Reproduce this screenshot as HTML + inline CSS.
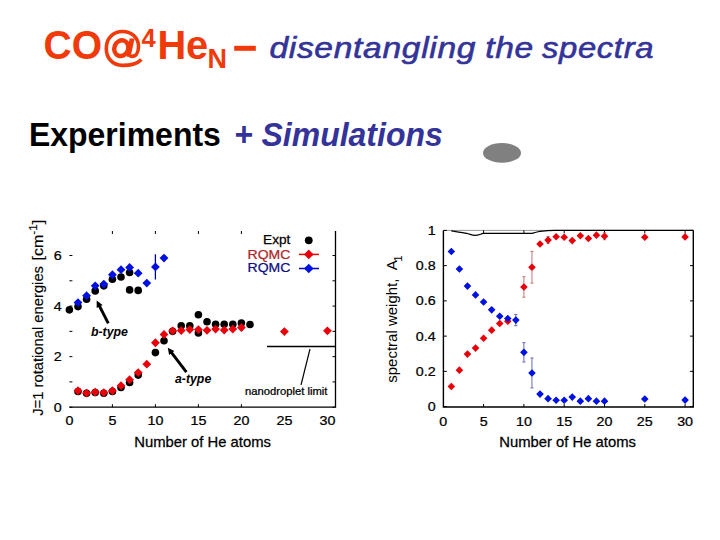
<!DOCTYPE html>
<html><head><meta charset="utf-8">
<style>
html,body{margin:0;padding:0;background:#fff;}
body{width:720px;height:540px;position:relative;overflow:hidden;}
svg{position:absolute;left:0;top:0;}
</style></head><body>
<svg width="720" height="540" viewBox="0 0 720 540" font-family='"Liberation Sans", sans-serif'>
<rect width="720" height="540" fill="#fff"/>
<text transform="translate(43.6 58.7) scale(1 1.04)" font-size="39" font-weight="bold" fill="#f03a0a">CO</text>
<g fill="none" stroke="#f03a0a">
<path d="M141.4 59.4C137 64 131 65.4 122.5 65.4C112 65.4 106.3 57.5 106.3 48.4C106.3 38 113.5 31.5 122.5 31.5C132 31.5 138.5 38 138.5 46.5C138.5 53 135.5 56.4 132 56.4C130 56.4 128.9 55 129.3 53" stroke-width="3.6"/>
<path d="M129.6 38.4L134.6 38.4L130.6 56.8L126.6 56.8Z" fill="#f03a0a" stroke="none"/>
<ellipse cx="121.3" cy="48.2" rx="6.9" ry="8" stroke-width="4.4" transform="rotate(22 121.3 48.2)"/>
</g>
<text x="141.5" y="46.6" font-family='"Liberation Sans", sans-serif' font-size="25.5" font-weight="bold" fill="#f03a0a">4</text>
<text transform="translate(157.4 58.7) scale(1.02 1.04)" font-size="39" font-weight="bold" fill="#f03a0a">He</text>
<text x="207.6" y="68" font-family='"Liberation Sans", sans-serif' font-size="27" font-weight="bold" fill="#f03a0a">N</text>
<rect x="234.2" y="45.8" width="21.6" height="5" fill="#f03a0a"/>
<g font-size="30" font-style="italic" letter-spacing="0.6" fill="#333399" stroke="#333399" stroke-width="0.6">
<text transform="translate(269.4 58.4) scale(1.12 1)">disentangling</text>
<text transform="translate(485.2 58.4) scale(1.12 1)">the</text>
<text transform="translate(541.9 58.4) scale(1.095 1)">spectra</text>
</g>
<text transform="translate(28.9 145.8) scale(1 1.035)" font-size="32" font-weight="bold" fill="#000">Experiments</text>
<text transform="translate(233.9 145.6) scale(1 1.02)" font-size="32" font-weight="bold" font-style="italic" fill="#333399">+ Simulations</text>
<ellipse cx="502" cy="152.9" rx="19" ry="9.8" fill="#808080"/>
<g stroke="#000" stroke-width="1.3" fill="none">
<path d="M69.4 407.2H335.5V231"/>
</g>
<g stroke="#000" stroke-width="1" fill="none">
<path d="M112.4 407.2v-3M112.4 231v3M155.4 407.2v-3M155.4 231v3M198.4 407.2v-3M198.4 231v3M241.4 407.2v-3M241.4 231v3M69.4 407.2h3M335.5 407.2h-3M69.4 381.92h3M335.5 381.92h-3M69.4 356.64h3M335.5 356.64h-3M69.4 331.36h3M335.5 331.36h-3M69.4 306.08h3M335.5 306.08h-3M69.4 280.8h3M335.5 280.8h-3M69.4 255.52h3M335.5 255.52h-3"/>
</g>
<text transform="translate(69.4 425.2) scale(1.1 1)" font-size="13" text-anchor="middle" fill="#000" stroke="#000" stroke-width="0.25">0</text>
<text transform="translate(112.4 425.2) scale(1.1 1)" font-size="13" text-anchor="middle" fill="#000" stroke="#000" stroke-width="0.25">5</text>
<text transform="translate(155.4 425.2) scale(1.1 1)" font-size="13" text-anchor="middle" fill="#000" stroke="#000" stroke-width="0.25">10</text>
<text transform="translate(198.4 425.2) scale(1.1 1)" font-size="13" text-anchor="middle" fill="#000" stroke="#000" stroke-width="0.25">15</text>
<text transform="translate(241.4 425.2) scale(1.1 1)" font-size="13" text-anchor="middle" fill="#000" stroke="#000" stroke-width="0.25">20</text>
<text transform="translate(284.4 425.2) scale(1.1 1)" font-size="13" text-anchor="middle" fill="#000" stroke="#000" stroke-width="0.25">25</text>
<text transform="translate(327.4 425.2) scale(1.1 1)" font-size="13" text-anchor="middle" fill="#000" stroke="#000" stroke-width="0.25">30</text>
<text transform="translate(61.6 411.7) scale(1.1 1)" font-size="13" text-anchor="end" fill="#000" stroke="#000" stroke-width="0.25">0</text>
<text transform="translate(61.6 361.14) scale(1.1 1)" font-size="13" text-anchor="end" fill="#000" stroke="#000" stroke-width="0.25">2</text>
<text transform="translate(61.6 310.58) scale(1.1 1)" font-size="13" text-anchor="end" fill="#000" stroke="#000" stroke-width="0.25">4</text>
<text transform="translate(61.6 260.02) scale(1.1 1)" font-size="13" text-anchor="end" fill="#000" stroke="#000" stroke-width="0.25">6</text>
<text transform="translate(134.2 447.2) scale(1.06 1)" font-size="14" fill="#000" stroke="#000" stroke-width="0.25">Number of He atoms</text>
<text transform="translate(42.9 415.8) rotate(-90) scale(0.985 1)" font-size="15" fill="#000" stroke="#000" stroke-width="0.15">J=1 rotational energies</text>
<text transform="translate(42.9 260.5) rotate(-90) scale(1.07 1)" font-size="15" fill="#000" stroke="#000" stroke-width="0.15">[cm<tspan dy="-6" font-size="11">-1</tspan><tspan dy="6">]</tspan></text>
<path d="M267 346.5H335.5" stroke="#000" stroke-width="1.3"/>
<path d="M301 385L310 349" stroke="#000" stroke-width="1.2"/>
<text transform="translate(245 394.7) scale(1.125 1)" font-size="10" fill="#000" stroke="#000" stroke-width="0.25">nanodroplet limit</text>
<circle cx="69.4" cy="309.87" r="3.8" fill="#000"/>
<circle cx="78" cy="306.59" r="3.8" fill="#000"/>
<circle cx="86.6" cy="299.25" r="3.8" fill="#000"/>
<circle cx="95.2" cy="290.91" r="3.8" fill="#000"/>
<circle cx="103.8" cy="285.86" r="3.8" fill="#000"/>
<circle cx="112.4" cy="279.28" r="3.8" fill="#000"/>
<circle cx="121" cy="277.01" r="3.8" fill="#000"/>
<circle cx="129.6" cy="272.46" r="3.8" fill="#000"/>
<circle cx="129.6" cy="289.9" r="3.8" fill="#000"/>
<circle cx="138.2" cy="290.41" r="3.8" fill="#000"/>
<circle cx="78" cy="391.53" r="3.8" fill="#000"/>
<circle cx="86.6" cy="393.3" r="3.8" fill="#000"/>
<circle cx="95.2" cy="392.54" r="3.8" fill="#000"/>
<circle cx="103.8" cy="393.3" r="3.8" fill="#000"/>
<circle cx="112.4" cy="391.53" r="3.8" fill="#000"/>
<circle cx="121" cy="387.48" r="3.8" fill="#000"/>
<circle cx="129.6" cy="382.43" r="3.8" fill="#000"/>
<circle cx="138.2" cy="375.09" r="3.8" fill="#000"/>
<circle cx="155.4" cy="352.6" r="3.8" fill="#000"/>
<circle cx="164" cy="340.71" r="3.8" fill="#000"/>
<circle cx="172.6" cy="331.36" r="3.8" fill="#000"/>
<circle cx="181.2" cy="325.8" r="3.8" fill="#000"/>
<circle cx="189.8" cy="325.8" r="3.8" fill="#000"/>
<circle cx="198.4" cy="314.68" r="3.8" fill="#000"/>
<circle cx="198.4" cy="332.88" r="3.8" fill="#000"/>
<circle cx="207" cy="321.75" r="3.8" fill="#000"/>
<circle cx="215.6" cy="324.28" r="3.8" fill="#000"/>
<circle cx="224.2" cy="324.28" r="3.8" fill="#000"/>
<circle cx="232.8" cy="324.28" r="3.8" fill="#000"/>
<circle cx="241.4" cy="323.02" r="3.8" fill="#000"/>
<circle cx="250" cy="324.53" r="3.8" fill="#000"/>
<path d="M78 386.37L82.4 390.77L78 395.17L73.6 390.77Z" fill="#e8000a"/>
<path d="M86.6 388.64L91 393.04L86.6 397.44L82.2 393.04Z" fill="#e8000a"/>
<path d="M95.2 387.63L99.6 392.03L95.2 396.43L90.8 392.03Z" fill="#e8000a"/>
<path d="M103.8 388.14L108.2 392.54L103.8 396.94L99.4 392.54Z" fill="#e8000a"/>
<path d="M112.4 386.37L116.8 390.77L112.4 395.17L108 390.77Z" fill="#e8000a"/>
<path d="M121 381.31L125.4 385.71L121 390.11L116.6 385.71Z" fill="#e8000a"/>
<path d="M129.6 375.24L134 379.64L129.6 384.04L125.2 379.64Z" fill="#e8000a"/>
<path d="M138.2 368.17L142.6 372.57L138.2 376.97L133.8 372.57Z" fill="#e8000a"/>
<path d="M146.8 359.82L151.2 364.22L146.8 368.62L142.4 364.22Z" fill="#e8000a"/>
<path d="M155.4 338.34L159.8 342.74L155.4 347.14L151 342.74Z" fill="#e8000a"/>
<path d="M164 329.99L168.4 334.39L164 338.79L159.6 334.39Z" fill="#e8000a"/>
<path d="M172.6 326.45L177 330.85L172.6 335.25L168.2 330.85Z" fill="#e8000a"/>
<path d="M181.2 326.2L185.6 330.6L181.2 335L176.8 330.6Z" fill="#e8000a"/>
<path d="M189.8 325.19L194.2 329.59L189.8 333.99L185.4 329.59Z" fill="#e8000a"/>
<path d="M198.4 325.19L202.8 329.59L198.4 333.99L194 329.59Z" fill="#e8000a"/>
<path d="M207 325.95L211.4 330.35L207 334.75L202.6 330.35Z" fill="#e8000a"/>
<path d="M215.6 324.68L220 329.08L215.6 333.48L211.2 329.08Z" fill="#e8000a"/>
<path d="M224.2 325.7L228.6 330.1L224.2 334.5L219.8 330.1Z" fill="#e8000a"/>
<path d="M232.8 324.68L237.2 329.08L232.8 333.48L228.4 329.08Z" fill="#e8000a"/>
<path d="M241.4 325.04V330.1M239.9 325.04H242.9M239.9 330.1H242.9" stroke="#e00" stroke-width="1" fill="none"/>
<path d="M241.4 323.17L245.8 327.57L241.4 331.97L237 327.57Z" fill="#e8000a"/>
<path d="M284.4 327.21L288.8 331.61L284.4 336.01L280 331.61Z" fill="#e8000a"/>
<path d="M327.4 326.45L331.8 330.85L327.4 335.25L323 330.85Z" fill="#e8000a"/>
<path d="M78 298.14L82.4 302.54L78 306.94L73.6 302.54Z" fill="#0010e0"/>
<path d="M86.6 291.32L91 295.72L86.6 300.12L82.2 295.72Z" fill="#0010e0"/>
<path d="M95.2 281.46L99.6 285.86L95.2 290.26L90.8 285.86Z" fill="#0010e0"/>
<path d="M103.8 279.69L108.2 284.09L103.8 288.49L99.4 284.09Z" fill="#0010e0"/>
<path d="M112.4 270.33L116.8 274.73L112.4 279.13L108 274.73Z" fill="#0010e0"/>
<path d="M121 265.28L125.4 269.68L121 274.08L116.6 269.68Z" fill="#0010e0"/>
<path d="M129.6 263L134 267.4L129.6 271.8L125.2 267.4Z" fill="#0010e0"/>
<path d="M138.2 270.18V276.25M138.2 270.18H138.2M138.2 276.25H138.2" stroke="#000090" stroke-width="1.3" fill="none"/>
<path d="M138.2 268.82L142.6 273.22L138.2 277.62L133.8 273.22Z" fill="#0010e0"/>
<path d="M146.8 278.68L151.2 283.08L146.8 287.48L142.4 283.08Z" fill="#0010e0"/>
<path d="M155.4 254.26V279.54M155.4 254.26H155.4M155.4 279.54H155.4" stroke="#000090" stroke-width="1.3" fill="none"/>
<path d="M155.4 262.5L159.8 266.9L155.4 271.3L151 266.9Z" fill="#0010e0"/>
<path d="M164 253.65L168.4 258.05L164 262.45L159.6 258.05Z" fill="#0010e0"/>
<text transform="translate(290.3 244.4) scale(1.09 1)" font-size="12.5" text-anchor="end" fill="#000" stroke="#000" stroke-width="0.25">Expt</text>
<text transform="translate(290.3 258.8) scale(1.12 1)" font-size="12.5" text-anchor="end" fill="#b02828" stroke="#b02828" stroke-width="0.25">RQMC</text>
<text transform="translate(290.3 272.2) scale(1.12 1)" font-size="12.5" text-anchor="end" fill="#101080" stroke="#101080" stroke-width="0.25">RQMC</text>
<circle cx="308.75" cy="240.3" r="3.9" fill="#000"/>
<path d="M299 254.4H319" stroke="#e00" stroke-width="1.5"/>
<path d="M308.75 249.6L313.55 254.4L308.75 259.2L303.95 254.4Z" fill="#e8000a"/>
<path d="M299 268.5H319" stroke="#0000c8" stroke-width="1.5"/>
<path d="M308.75 263.7L313.55 268.5L308.75 273.3L303.95 268.5Z" fill="#0010e0"/>
<path d="M108.3 323.3L99.2 305.5" stroke="#000" stroke-width="2.9"/><path d="M96.7 300.6L102.6 304.89L96.72 307.89Z" fill="#000"/>
<path d="M186.4 372.2L171.13 352.17" stroke="#000" stroke-width="2.9"/><path d="M167.8 347.8L174.36 350.97L169.12 354.97Z" fill="#000"/>
<text transform="translate(91 335.5)" font-size="12.3" fill="#000" font-weight="bold" font-style="italic">b-type</text>
<text transform="translate(175 383.3)" font-size="12.3" fill="#000" font-weight="bold" font-style="italic">a-type</text>
<path d="M443.4 230.4V407H693.3V230.4" stroke="#000" stroke-width="1.4" fill="none"/>
<path d="M443.4 230.4H693.3" stroke="#999" stroke-width="1" fill="none"/>
<path d="M483.6 407v-3M483.6 230.4v3M523.9 407v-3M523.9 230.4v3M564.2 407v-3M564.2 230.4v3M604.5 407v-3M604.5 230.4v3M644.8 407v-3M644.8 230.4v3M685.1 407v-3M685.1 230.4v3M443.3 406.6h3.5M693.5 406.6h-3.5M443.3 371.36h3.5M693.5 371.36h-3.5M443.3 336.12h3.5M693.5 336.12h-3.5M443.3 300.88h3.5M693.5 300.88h-3.5M443.3 265.64h3.5M693.5 265.64h-3.5M443.3 230.4h3.5M693.5 230.4h-3.5" stroke="#000" stroke-width="1" fill="none"/>
<text transform="translate(443.3 425.5) scale(1.1 1)" font-size="13" text-anchor="middle" fill="#000" stroke="#000" stroke-width="0.25">0</text>
<text transform="translate(483.6 425.5) scale(1.1 1)" font-size="13" text-anchor="middle" fill="#000" stroke="#000" stroke-width="0.25">5</text>
<text transform="translate(523.9 425.5) scale(1.1 1)" font-size="13" text-anchor="middle" fill="#000" stroke="#000" stroke-width="0.25">10</text>
<text transform="translate(564.2 425.5) scale(1.1 1)" font-size="13" text-anchor="middle" fill="#000" stroke="#000" stroke-width="0.25">15</text>
<text transform="translate(604.5 425.5) scale(1.1 1)" font-size="13" text-anchor="middle" fill="#000" stroke="#000" stroke-width="0.25">20</text>
<text transform="translate(644.8 425.5) scale(1.1 1)" font-size="13" text-anchor="middle" fill="#000" stroke="#000" stroke-width="0.25">25</text>
<text transform="translate(685.1 425.5) scale(1.1 1)" font-size="13" text-anchor="middle" fill="#000" stroke="#000" stroke-width="0.25">30</text>
<text transform="translate(435.6 411.1) scale(1.1 1)" font-size="13" text-anchor="end" fill="#000" stroke="#000" stroke-width="0.25">0</text>
<text transform="translate(435.6 375.86) scale(1.1 1)" font-size="13" text-anchor="end" fill="#000" stroke="#000" stroke-width="0.25">0.2</text>
<text transform="translate(435.6 340.62) scale(1.1 1)" font-size="13" text-anchor="end" fill="#000" stroke="#000" stroke-width="0.25">0.4</text>
<text transform="translate(435.6 305.38) scale(1.1 1)" font-size="13" text-anchor="end" fill="#000" stroke="#000" stroke-width="0.25">0.6</text>
<text transform="translate(435.6 270.14) scale(1.1 1)" font-size="13" text-anchor="end" fill="#000" stroke="#000" stroke-width="0.25">0.8</text>
<text transform="translate(435.6 234.9) scale(1.1 1)" font-size="13" text-anchor="end" fill="#000" stroke="#000" stroke-width="0.25">1</text>
<text transform="translate(499.2 447.2) scale(1.06 1)" font-size="14" fill="#000" stroke="#000" stroke-width="0.25">Number of He atoms</text>
<text transform="translate(397 382.8) rotate(-90)" font-size="15" fill="#000">spectral weight,</text>
<text transform="translate(396.9 270.2) rotate(-90)" font-size="15" fill="#000">A</text>
<text transform="translate(401.7 261.7) rotate(-90)" font-size="11.5" fill="#000">1</text>
<path d="M451.25 230.8C456 231.5 462 232.6 466.7 233.4C470 234.1 472 235.4 475 235.4C478 235.4 480 234.3 483.3 233.4L531.7 233.4C534 233.1 537 231.6 540 231.3C545 230.8 550 230.5 555 230.4L693.3 230.4" stroke="#000" stroke-width="1.2" fill="none"/>
<path d="M451.36 382.71L455.16 386.51L451.36 390.31L447.56 386.51Z" fill="#e8000a"/>
<path d="M459.42 366.33L463.22 370.13L459.42 373.93L455.62 370.13Z" fill="#e8000a"/>
<path d="M467.48 350.29L471.28 354.09L467.48 357.89L463.68 354.09Z" fill="#e8000a"/>
<path d="M475.54 344.3L479.34 348.1L475.54 351.9L471.74 348.1Z" fill="#e8000a"/>
<path d="M483.6 334.43L487.4 338.23L483.6 342.03L479.8 338.23Z" fill="#e8000a"/>
<path d="M491.66 326.33L495.46 330.13L491.66 333.93L487.86 330.13Z" fill="#e8000a"/>
<path d="M499.72 319.63L503.52 323.43L499.72 327.23L495.92 323.43Z" fill="#e8000a"/>
<path d="M507.78 317.52L511.58 321.32L507.78 325.12L503.98 321.32Z" fill="#e8000a"/>
<path d="M523.9 276.74V297.18M522.3 276.74H525.5M522.3 297.18H525.5" stroke="#b86a6a" stroke-width="0.9" fill="none"/>
<path d="M523.9 283.16L527.7 286.96L523.9 290.76L520.1 286.96Z" fill="#e8000a"/>
<path d="M531.96 251.37V283.08M530.36 251.37H533.56M530.36 283.08H533.56" stroke="#b86a6a" stroke-width="0.9" fill="none"/>
<path d="M531.96 263.43L535.76 267.23L531.96 271.03L528.16 267.23Z" fill="#e8000a"/>
<path d="M540.02 240.17L543.82 243.97L540.02 247.77L536.22 243.97Z" fill="#e8000a"/>
<path d="M548.08 236.57V243.62M546.48 236.57H549.68M546.48 243.62H549.68" stroke="#b86a6a" stroke-width="0.9" fill="none"/>
<path d="M548.08 236.29L551.88 240.09L548.08 243.89L544.28 240.09Z" fill="#e8000a"/>
<path d="M556.14 232.94L559.94 236.74L556.14 240.54L552.34 236.74Z" fill="#e8000a"/>
<path d="M564.2 233.47L568 237.27L564.2 241.07L560.4 237.27Z" fill="#e8000a"/>
<path d="M572.26 236.82L576.06 240.62L572.26 244.42L568.46 240.62Z" fill="#e8000a"/>
<path d="M580.32 231.89L584.12 235.69L580.32 239.49L576.52 235.69Z" fill="#e8000a"/>
<path d="M588.38 234.71L592.18 238.51L588.38 242.31L584.58 238.51Z" fill="#e8000a"/>
<path d="M596.44 231.36L600.24 235.16L596.44 238.96L592.64 235.16Z" fill="#e8000a"/>
<path d="M604.5 232.69V239.74M602.9 232.69H606.1M602.9 239.74H606.1" stroke="#b86a6a" stroke-width="0.9" fill="none"/>
<path d="M604.5 232.41L608.3 236.21L604.5 240.01L600.7 236.21Z" fill="#e8000a"/>
<path d="M644.8 233.47L648.6 237.27L644.8 241.07L641 237.27Z" fill="#e8000a"/>
<path d="M685.1 233.12L688.9 236.92L685.1 240.72L681.3 236.92Z" fill="#e8000a"/>
<path d="M451.36 247.74L455.16 251.54L451.36 255.34L447.56 251.54Z" fill="#0010e0"/>
<path d="M459.42 265.19L463.22 268.99L459.42 272.79L455.62 268.99Z" fill="#0010e0"/>
<path d="M467.48 282.28L471.28 286.08L467.48 289.88L463.68 286.08Z" fill="#0010e0"/>
<path d="M475.54 291.09L479.34 294.89L475.54 298.69L471.74 294.89Z" fill="#0010e0"/>
<path d="M483.6 298.14L487.4 301.94L483.6 305.74L479.8 301.94Z" fill="#0010e0"/>
<path d="M491.66 306.07L495.46 309.87L491.66 313.67L487.86 309.87Z" fill="#0010e0"/>
<path d="M499.72 312.41L503.52 316.21L499.72 320.01L495.92 316.21Z" fill="#0010e0"/>
<path d="M507.78 314.7L511.58 318.5L507.78 322.3L503.98 318.5Z" fill="#0010e0"/>
<path d="M515.84 314.45V325.72M514.24 314.45H517.44M514.24 325.72H517.44" stroke="#5a5aa8" stroke-width="0.9" fill="none"/>
<path d="M515.84 316.29L519.64 320.09L515.84 323.89L512.04 320.09Z" fill="#0010e0"/>
<path d="M523.9 342.64V362.02M522.3 342.64H525.5M522.3 362.02H525.5" stroke="#5a5aa8" stroke-width="0.9" fill="none"/>
<path d="M523.9 348.53L527.7 352.33L523.9 356.13L520.1 352.33Z" fill="#0010e0"/>
<path d="M531.96 357.97V387.92M530.36 357.97H533.56M530.36 387.92H533.56" stroke="#5a5aa8" stroke-width="0.9" fill="none"/>
<path d="M531.96 369.15L535.76 372.95L531.96 376.75L528.16 372.95Z" fill="#0010e0"/>
<path d="M540.02 390.29L543.82 394.09L540.02 397.89L536.22 394.09Z" fill="#0010e0"/>
<path d="M548.08 394.87L551.88 398.67L548.08 402.47L544.28 398.67Z" fill="#0010e0"/>
<path d="M556.14 396.46L559.94 400.26L556.14 404.06L552.34 400.26Z" fill="#0010e0"/>
<path d="M564.2 396.46L568 400.26L564.2 404.06L560.4 400.26Z" fill="#0010e0"/>
<path d="M572.26 393.29L576.06 397.09L572.26 400.89L568.46 397.09Z" fill="#0010e0"/>
<path d="M580.32 397.34L584.12 401.14L580.32 404.94L576.52 401.14Z" fill="#0010e0"/>
<path d="M588.38 394.87L592.18 398.67L588.38 402.47L584.58 398.67Z" fill="#0010e0"/>
<path d="M596.44 397.34L600.24 401.14L596.44 404.94L592.64 401.14Z" fill="#0010e0"/>
<path d="M604.5 397.34L608.3 401.14L604.5 404.94L600.7 401.14Z" fill="#0010e0"/>
<path d="M644.8 395.22L648.6 399.02L644.8 402.82L641 399.02Z" fill="#0010e0"/>
<path d="M685.1 396.28L688.9 400.08L685.1 403.88L681.3 400.08Z" fill="#0010e0"/>
</svg>
</body></html>
